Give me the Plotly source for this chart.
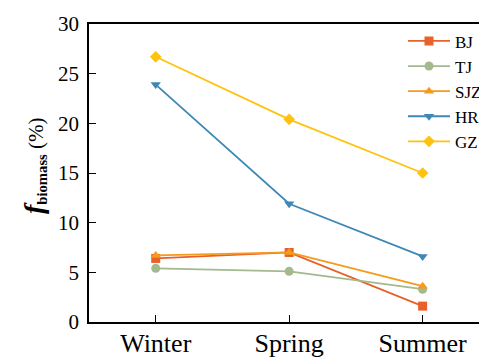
import plotly.graph_objects as go

seasons = ["Winter", "Spring", "Summer"]
BJ = [6.4, 7.0, 1.6]
TJ = [5.4, 5.1, 3.3]
SJZ = [6.7, 7.0, 3.6]
HR = [23.9, 11.9, 6.6]
GZ = [26.7, 20.4, 15.0]

series = [
    ("BJ", BJ, "#E8602A", "square"),
    ("TJ", TJ, "#A3B98E", "circle"),
    ("SJZ", SJZ, "#F59A1A", "triangle-up"),
    ("HR", HR, "#3F88B6", "triangle-down"),
    ("GZ", GZ, "#FFC20E", "diamond"),
]

fig = go.Figure()
for name, vals, col, sym in series:
    fig.add_trace(go.Scatter(
        x=seasons, y=vals, name=name, mode="lines+markers",
        line=dict(color=col, width=1.8),
        marker=dict(symbol=sym, size=9, color=col),
    ))

font_family = "Liberation Serif"
# the page body adds an 8px margin, so the figure is sized to fill the rest
fig.update_layout(
    width=479, height=349,
    margin=dict(l=81, r=0, t=16, b=35),
    plot_bgcolor="white", paper_bgcolor="white",
    font=dict(family=font_family, color="black"),
    showlegend=True,
    legend=dict(
        x=1.018, y=1.002, xanchor="right", yanchor="top",
        font=dict(family=font_family, size=17, color="black"),
        bgcolor="rgba(0,0,0,0)", itemwidth=42,
        tracegroupgap=0,
    ),
    xaxis=dict(
        range=[-0.5, 2.43], showgrid=False, zeroline=False,
        showline=True, linecolor="black", linewidth=1.5, mirror=True,
        ticks="inside", ticklen=7, tickwidth=1.2, tickcolor="black",
        tickfont=dict(size=26, family=font_family),
        ticklabelstandoff=-3, automargin=False,
    ),
    yaxis=dict(
        range=[0, 30], dtick=5, showgrid=False, zeroline=False,
        showline=True, linecolor="black", linewidth=1.5,
        ticks="inside", ticklen=7, tickwidth=1.2, tickcolor="black",
        tickfont=dict(size=21, family=font_family),
        ticklabelstandoff=4, automargin=False,
    ),
    annotations=[dict(
        text='<b><i><span style="font-size:28px">f</span></i></b><sub><b>biomass</b></sub> (%)',
        xref="paper", yref="paper", x=-0.141, y=0.526,
        xanchor="center", yanchor="middle", textangle=-90, showarrow=False,
        font=dict(size=21, family=font_family, color="black"),
    )],
)

fig.write_html("out.html")
